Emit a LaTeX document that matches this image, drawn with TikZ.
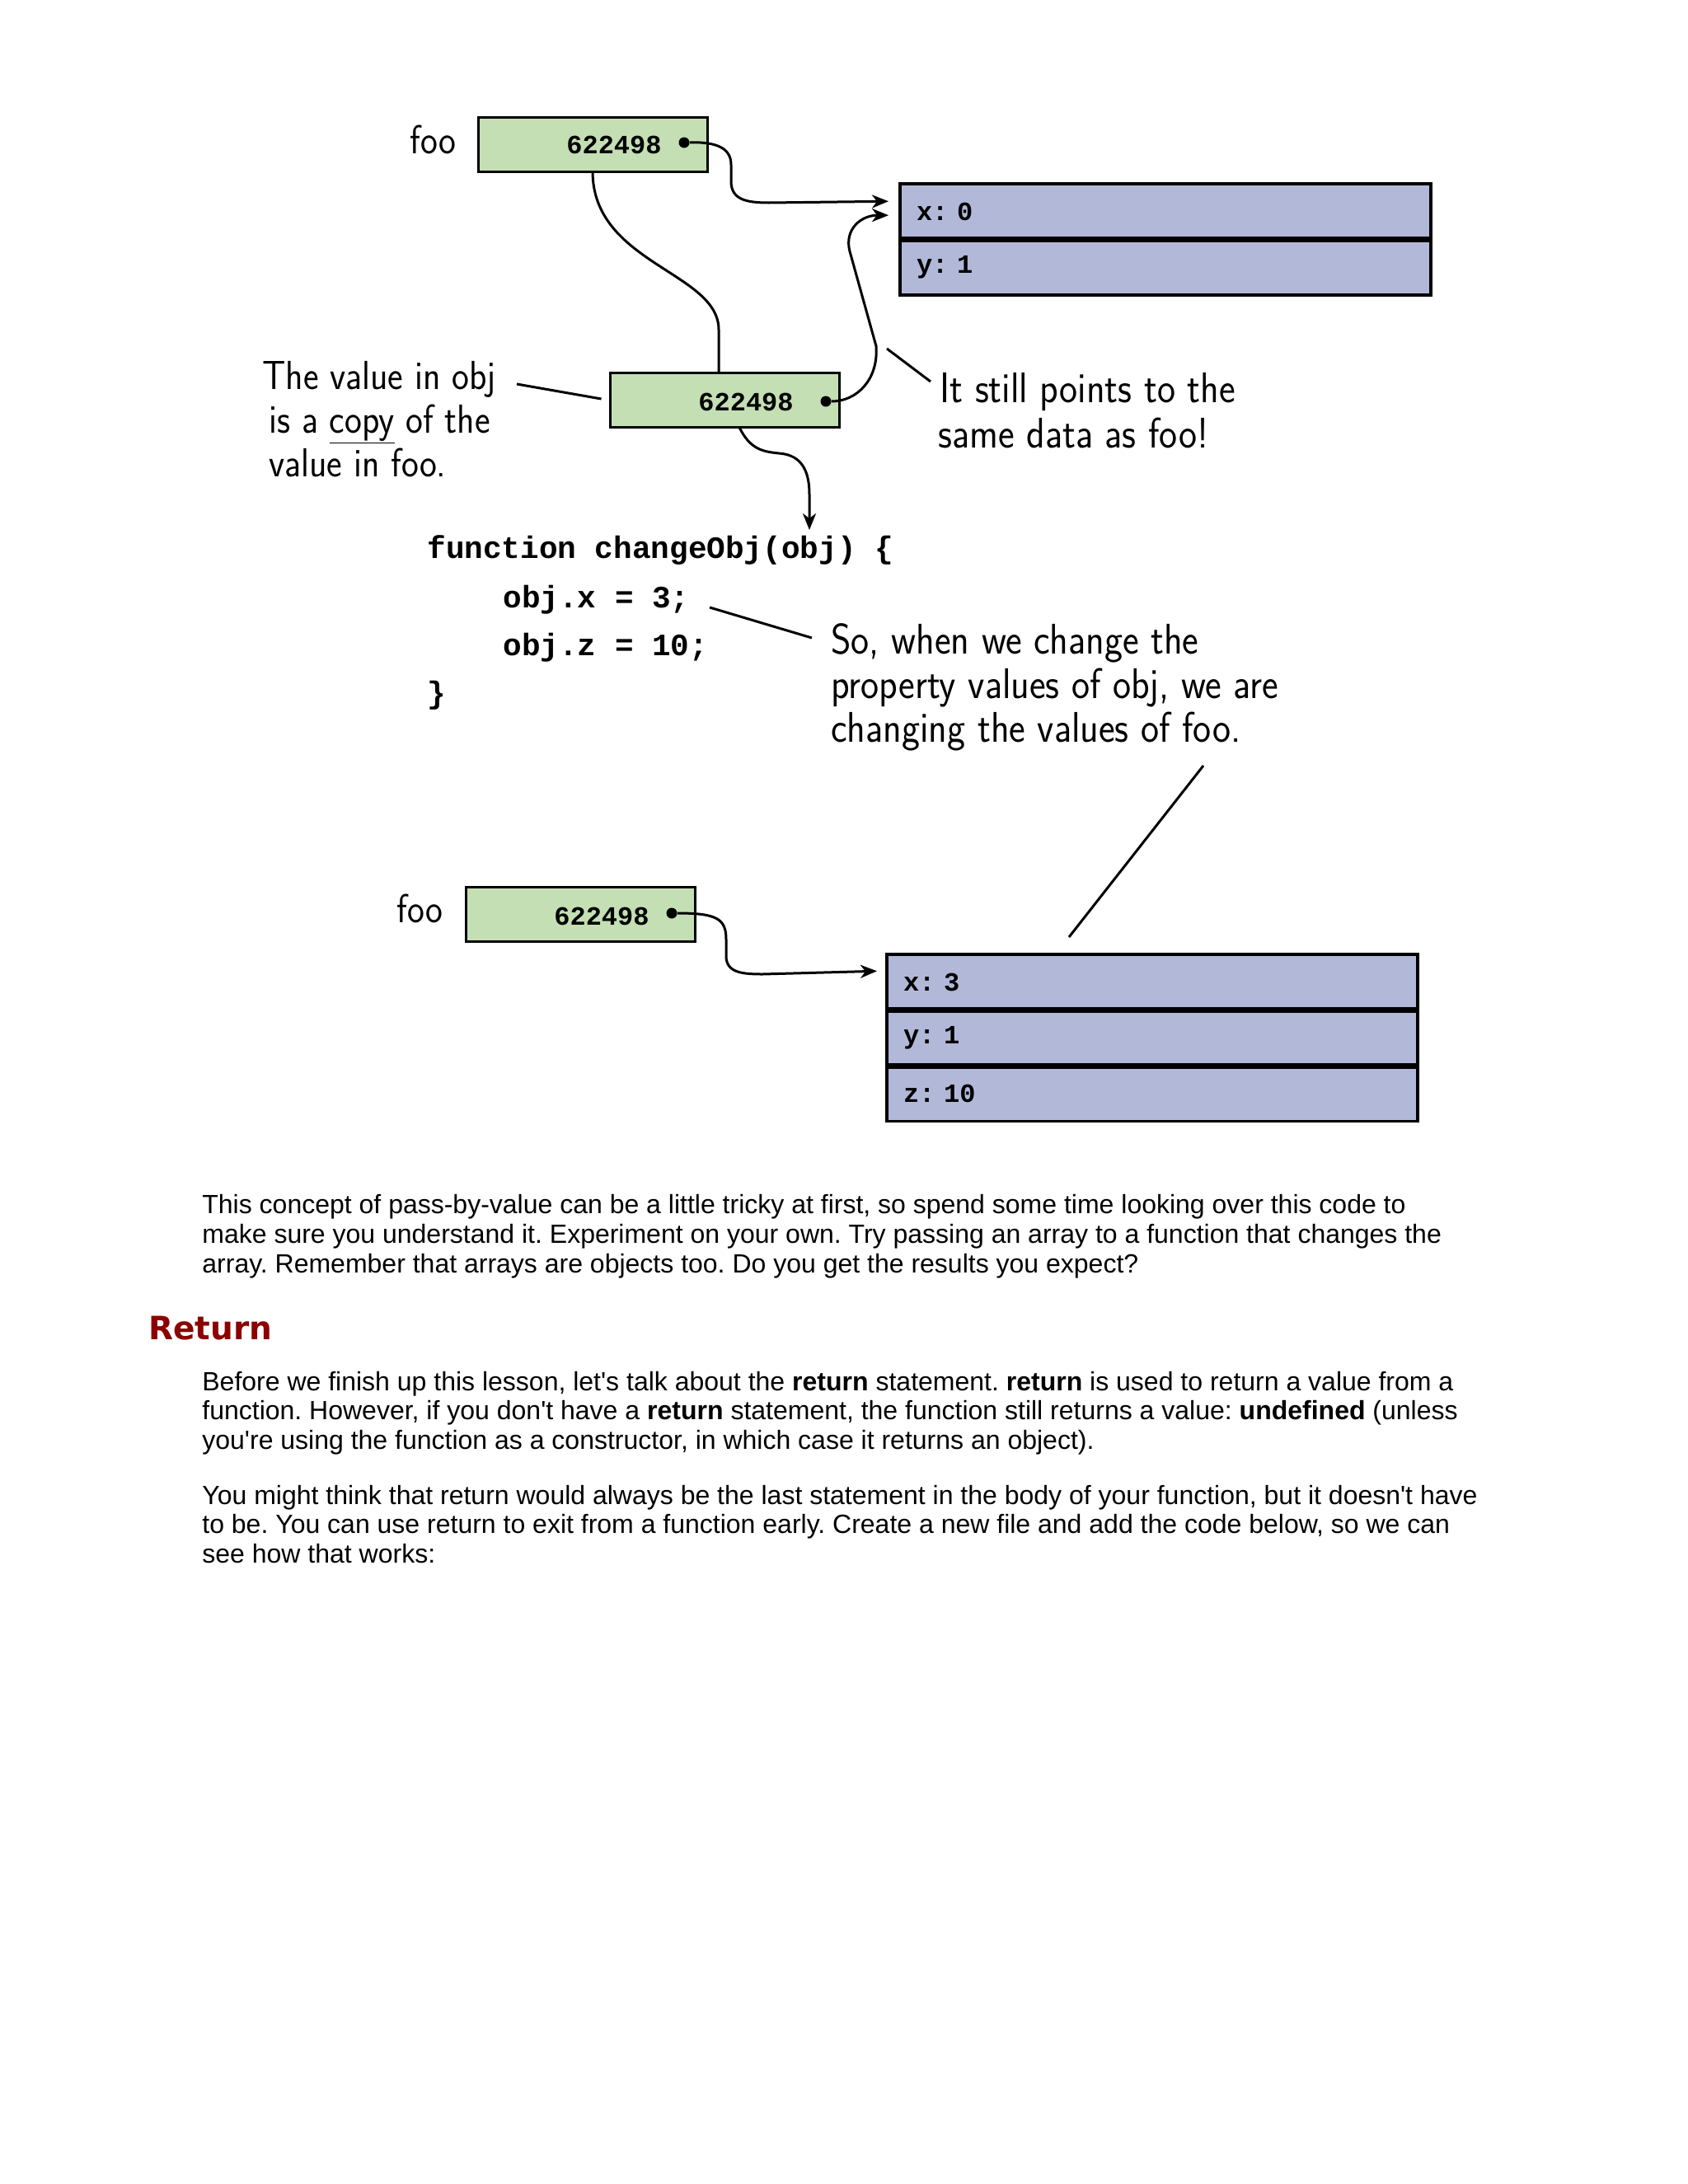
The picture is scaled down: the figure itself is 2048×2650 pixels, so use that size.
\documentclass[tikz,border=0pt]{standalone}
\usepackage{fontspec}
\setmainfont{Liberation Sans}
\newfontfamily\codefont{Liberation Mono}
\newfontfamily\hand[FakeStretch=0.9]{Latin Modern Sans}
\newfontfamily\headfont{DejaVu Sans}
\usetikzlibrary{arrows.meta,calc}
\definecolor{valfill}{RGB}{196,223,180}
\definecolor{objfill}{RGB}{178,185,216}
\definecolor{headred}{RGB}{140,0,0}
\newcommand{\apos}{\textquotesingle}
\frenchspacing
\begin{document}
\begin{tikzpicture}[x=0.5pt,y=-0.5pt,
  valbox/.style={draw, line width=1.5pt, fill=valfill, minimum width=139pt, minimum height=33pt, inner sep=0pt, outer sep=0pt},
  valtext/.style={font=\codefont\bfseries\fontsize{16}{16}\selectfont, inner sep=0pt},
  ptr/.style={circle, fill=black, inner sep=0pt, minimum size=6.5pt},
  row/.style={draw, line width=1.75pt, fill=objfill, minimum height=33.75pt, text width=302pt, inner xsep=10pt, inner ysep=0pt, outer sep=0pt, align=left, anchor=north west, font=\codefont\bfseries\fontsize{16}{16}\selectfont},
  divider/.style={line width=3.5pt},
  conn/.style={line width=1.5pt, -{Stealth[length=10pt,width=8pt,inset=3pt]}},
  lead/.style={line width=1.5pt},
  handl/.style={font=\hand\fontsize{24.6}{28}\selectfont, inner sep=0pt, anchor=base west},
  handr/.style={font=\hand\fontsize{26}{30}\selectfont, inner sep=0pt, anchor=base west},
  code/.style={font=\codefont\bfseries\fontsize{18.85}{20}\selectfont, inner sep=0pt, anchor=base west},
  body/.style={font=\fontsize{16}{19}\selectfont, inner sep=0pt, anchor=base west},
]
\useasboundingbox[fill=white] (0,0) rectangle (2048,2650);

% ---------- top: foo and its object ----------
\node[handl] (foo1) at (497,186) {foo};
\node[valbox] (box1) at (719,175) {};
\node[valtext] (v1) at (745,176) {622498};
\node[ptr] (d1) at (830,173) {};

\node[row] (o1x) at (1092,223) {x: 0};
\node[row] (o1y) at (o1x.south west) {y: 1};
\draw[divider] (o1x.south west) -- (o1x.south east);

% ---------- obj copy ----------
\node[valbox] (box2) at (879.5,485.5) {};
\node[valtext] (v2) at (905,488) {622498};
\node[ptr] (d2) at (1002,487) {};

% connectors
\draw[conn] (d1) .. controls (870,172) and (887,180) .. (887,200) -- (887,220)
  .. controls (887,242) and (905,246) .. (933,246) -- ($(o1x.west)+(-14,-12.5)$);
\draw[conn] (d2) .. controls (1040,487) and (1066,460) .. (1063,420) -- (1031,305)
  .. controls (1024,278) and (1045,261) .. ($(o1x.west)+(-14,4.5)$);
\draw[lead] (box1.south) .. controls (719,320) and (872,330) .. (872,400) -- ($(box2.north)+(-7.5,0)$);

% annotation left
\node[handl] (n1a) at (318,472) {The value in obj};
\node[handl] (n1b) at (326,525) {is a \underline{copy} of the};
\node[handl] (n1c) at (326,578) {value in foo.};
\coordinate (l1) at (627,466);
\draw[lead] (l1) -- ($(box2.west)+(-11,-1.5)$);

% annotation right
\node[handr] (n2a) at (1140,488) {It still points to the};
\node[handr] (n2b) at (1138,543) {same data as foo!};
\coordinate (l2a) at (1076,423);
\coordinate (l2b) at (1129,463);
\draw[lead] (l2a) -- (l2b);

% ---------- code ----------
\node[code] (c1) at (518,677) {function changeObj(obj) \{};
\node[code] (c2) at (610,737) {obj.x = 3;};
\node[code] (c3) at (610,795) {obj.z = 10;};
\node[code] (c4) at (518,853) {\}};
\coordinate (tip1) at (982,643);
\draw[conn] ($(box2.south)+(17.5,0)$) .. controls (910,545) and (925,548) .. (945,550)
  .. controls (975,552) and (982,575) .. (982,600) -- (tip1);

\node[handr] (n3a) at (1008,793) {So, when we change the};
\node[handr] (n3b) at (1008,847) {property values of obj, we are};
\node[handr] (n3c) at (1008,900) {changing the values of foo.};
\coordinate (l3a) at (861,737);
\coordinate (l3b) at (985,774);
\draw[lead] (l3a) -- (l3b);
\coordinate (l4a) at (1460,929);
\coordinate (l4b) at (1297,1137);
\draw[lead] (l4a) -- (l4b);

% ---------- bottom: foo after change ----------
\node[handl] (foo2) at (481,1119) {foo};
\node[valbox] (box3) at (704,1109.5) {};
\node[valtext] (v3) at (730,1112) {622498};
\node[ptr] (d3) at (815,1108) {};

\node[row] (o2x) at (1076,1158) {x: 3};
\node[row] (o2y) at (o2x.south west) {y: 1};
\node[row] (o2z) at (o2y.south west) {z: 10};
\draw[divider] (o2x.south west) -- (o2x.south east);
\draw[divider] (o2y.south west) -- (o2y.south east);

\draw[conn] (d3) .. controls (870,1108) and (881,1115) .. (881,1140) -- (881,1160)
  .. controls (881,1180) and (900,1182) .. (925,1182) -- ($(o2x.west)+(-12,-13.5)$);

% ---------- body text ----------
\node[body] (p1a) at (245,1472) {This concept of pass-by-value can be a little tricky at first, so spend some time looking over this code to};
\node[body] (p1b) at (245,1508) {make sure you understand it. Experiment on your own. Try passing an array to a function that changes the};
\node[body] (p1c) at (245,1544) {array. Remember that arrays are objects too. Do you get the results you expect?};

\node[font=\headfont\bfseries\fontsize{19.5}{22}\selectfont, text=headred, inner sep=0pt, anchor=base west] (h1) at (180,1625) {Return};

\node[body] (p2a) at (245,1687) {Before we finish up this lesson, let\apos s talk about the \textbf{return} statement. \textbf{return} is used to return a value from a};
\node[body] (p2b) at (245,1722) {function. However, if you don\apos t have a \textbf{return} statement, the function still returns a value: \textbf{undefined} (unless};
\node[body] (p2c) at (245,1758) {you\apos re using the function as a constructor, in which case it returns an object).};

\node[body] (p3a) at (245,1825) {You might think that return would always be the last statement in the body of your function, but it doesn\apos t have};
\node[body] (p3b) at (245,1860) {to be. You can use return to exit from a function early. Create a new file and add the code below, so we can};
\node[body] (p3c) at (245,1896) {see how that works:};
\end{tikzpicture}
\end{document}
